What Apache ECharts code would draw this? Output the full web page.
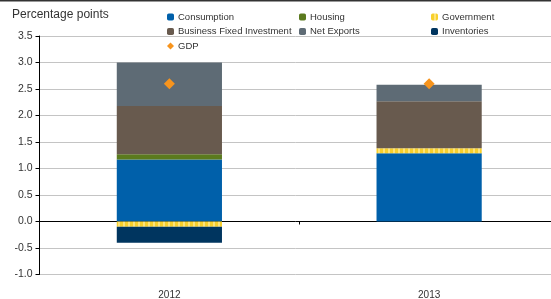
<!DOCTYPE html>
<html><head><meta charset="utf-8">
<script src="https://cdn.jsdelivr.net/npm/echarts@6/dist/echarts.min.js"></script>
<style>html,body{margin:0;padding:0;background:#fff}#c{width:551px;height:299px}</style>
</head><body><div id="c"></div>
<script>
const categories = ['2012', '2013'];
const consumption = [1.17, 1.29];
const housing = [0.10, 0];
const government = [-0.10, 0.09];
const businessFixedInvestment = [0.91, 0.89];
const netExports = [0.82, 0.31];
const inventories = [-0.30, 0];
const gdp = [2.6, 2.6];
const yMin = -1.0, yMax = 3.5, yStep = 0.5;
const yTitle = 'Percentage points';

const pc = document.createElement('canvas');
pc.width = 5; pc.height = 4;
const g = pc.getContext('2d');
g.fillStyle = '#f8d02c'; g.fillRect(0, 0, 5, 4);
g.fillStyle = '#fde47a'; g.fillRect(3, 0, 2, 4);
const govColor = {image: pc, repeat: 'repeat'};

const font = 'Liberation Sans';
const chart = echarts.init(document.getElementById('c'), null, {renderer: 'canvas'});
function barS(name, data, color) {
  return {name, type: 'bar', stack: 'a', data, barWidth: '40.5%', xAxisIndex: 0,
    itemStyle: {color}, emphasis: {disabled: true}};
}
const legendBase = {orient: 'vertical', itemWidth: 7, itemHeight: 7, itemGap: 4.5,
  textStyle: {fontFamily: font, fontSize: 9.5, color: '#333', lineHeight: 9, padding: [0, 0, 0, -1]},
  padding: 0, selectedMode: false};
chart.setOption({
  animation: false,
  textStyle: {fontFamily: font},
  graphic: [{type: 'rect', shape: {x: 0, y: 0, width: 551, height: 1.5}, style: {fill: '#333'}}],
  title: {text: yTitle, left: 12, top: 9, padding: 0,
    textStyle: {fontFamily: font, fontSize: 12, fontWeight: 'normal', color: '#333'}},
  legend: [
    Object.assign({}, legendBase, {left: 167, top: 12, data: ['Consumption', 'Business Fixed Investment', {name: 'GDP', icon: 'diamond'}]}),
    Object.assign({}, legendBase, {left: 299, top: 12, data: ['Housing', 'Net Exports']}),
    Object.assign({}, legendBase, {left: 431, top: 12, data: ['Government', 'Inventories']})
  ],
  grid: {left: 39.5, top: 36, width: 519.5, height: 238.5, containLabel: false, outerBoundsMode: 'none'},
  xAxis: [
    {type: 'category', data: categories, position: 'bottom',
      axisLine: {show: false, onZero: false}, axisTick: {show: false},
      axisLabel: {color: '#333', fontSize: 10, fontFamily: font, margin: 16}},
    {type: 'category', data: categories, position: 'bottom',
      axisLine: {show: true, onZero: true, lineStyle: {color: '#000', width: 1}},
      axisTick: {show: true, length: 3, lineStyle: {color: '#000'}},
      axisLabel: {show: false}}
  ],
  yAxis: {type: 'value', min: yMin, max: yMax, interval: yStep,
    axisLine: {show: true, lineStyle: {color: '#000', width: 1}},
    axisTick: {show: true, length: 4, lineStyle: {color: '#000'}},
    axisLabel: {color: '#333', fontSize: 10.5, fontFamily: font, margin: 7,
      formatter: v => v.toFixed(1)},
    splitLine: {lineStyle: {color: '#c4c4c4', width: 1}}},
  series: [
    barS('Consumption', consumption, '#0060aa'),
    barS('Housing', housing, '#5b7a1e'),
    barS('Government', government, govColor),
    barS('Business Fixed Investment', businessFixedInvestment, '#685a4e'),
    barS('Net Exports', netExports, '#5e6b75'),
    barS('Inventories', inventories, '#00355f'),
    {name: 'GDP', type: 'scatter', data: gdp, xAxisIndex: 0, symbol: 'diamond', symbolSize: 11,
      itemStyle: {color: '#f7941d', opacity: 1}, z: 5, emphasis: {disabled: true}}
  ]
});
</script></body></html>
